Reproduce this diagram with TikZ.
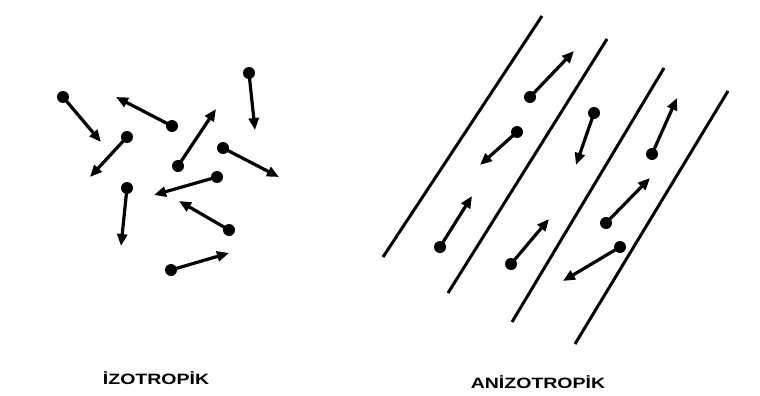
\documentclass[tikz,border=0pt]{standalone}
\usepackage{fontspec}
\setmainfont{Liberation Sans}
\usetikzlibrary{arrows.meta}
\begin{document}
\begin{tikzpicture}[x=1pt,y=-1pt,
  dot/.style={circle,fill=black,inner sep=0pt,minimum size=12pt},
  vec/.style={line width=3.2pt,-{Triangle[length=12pt,width=10pt]}},
  wall/.style={line width=3pt},
  lbl/.style={font=\bfseries\fontsize{15}{15}\selectfont,inner sep=0pt}]
\useasboundingbox (0,0) rectangle (760,396);
\fill[white] (0,0) rectangle (760,396);
% isotropic
\node[dot] (i1) at (63,97) {};   \coordinate (t1) at (101,142);
\node[dot] (i2) at (172,126) {}; \coordinate (t2) at (116,97);
\node[dot] (i3) at (127,137) {}; \coordinate (t3) at (90,177);
\node[dot] (i4) at (249,73) {};  \coordinate (t4) at (255,130);
\node[dot] (i5) at (178,166) {}; \coordinate (t5) at (216,109);
\node[dot] (i6) at (223,148) {}; \coordinate (t6) at (279,177);
\node[dot] (i7) at (217,177) {}; \coordinate (t7) at (154,195);
\node[dot] (i8) at (127,188) {}; \coordinate (t8) at (121,246);
\node[dot] (i9) at (229,230) {}; \coordinate (t9) at (179,201);
\node[dot] (i10) at (171,270) {}; \coordinate (t10) at (229,253);
\foreach \k in {1,...,10} \draw[vec] (i\k.center) -- (t\k);
% anisotropic walls
\coordinate (w1a) at (542,16); \coordinate (w1b) at (383,257);
\coordinate (w2a) at (607,39); \coordinate (w2b) at (448,293);
\coordinate (w3a) at (664,68); \coordinate (w3b) at (512,322);
\coordinate (w4a) at (728,91); \coordinate (w4b) at (575,344);
\foreach \k in {1,...,4} \draw[wall] (w\k a) -- (w\k b);
% anisotropic vectors
\node[dot] (a1) at (530,97) {};  \coordinate (s1) at (574,51);
\node[dot] (a2) at (517,132) {}; \coordinate (s2) at (480,165);
\node[dot] (a3) at (594,113) {}; \coordinate (s3) at (576,165);
\node[dot] (a4) at (652,154) {}; \coordinate (s4) at (677,98);
\node[dot] (a5) at (440,247) {}; \coordinate (s5) at (472,196);
\node[dot] (a6) at (511,264) {}; \coordinate (s6) at (549,219);
\node[dot] (a7) at (606,223) {}; \coordinate (s7) at (650,178);
\node[dot] (a8) at (620,247) {}; \coordinate (s8) at (563,281);
\foreach \k in {1,...,8} \draw[vec] (a\k.center) -- (s\k);
% labels
\node[lbl,xscale=1.3] (liso) at (156,378) {İZOTROPİK};
\node[lbl,xscale=1.3] (laniso) at (538,382) {ANİZOTROPİK};
\end{tikzpicture}
\end{document}
